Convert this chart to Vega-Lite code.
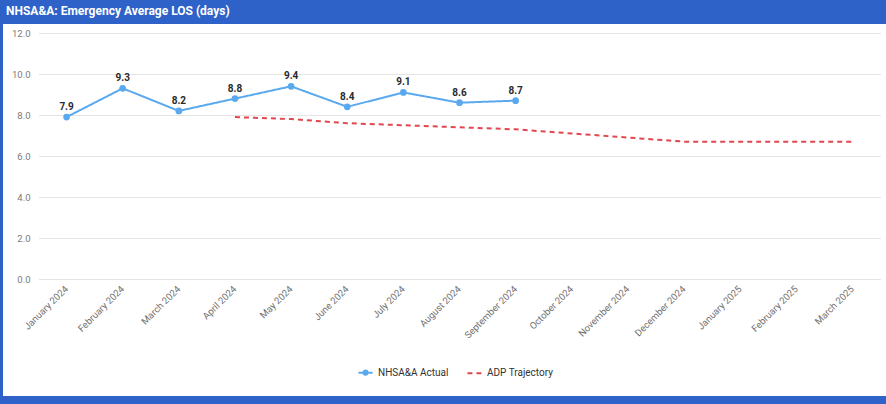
{
  "$schema": "https://vega.github.io/schema/vega-lite/v6.json",
  "autosize": {"type": "none"},
  "width": 883,
  "height": 372,
  "padding": {"left": 3, "top": 24, "right": 0, "bottom": 8},
  "background": "#2f62c8",
  "title": {
    "text": "NHSA&A: Emergency Average LOS (days)",
    "anchor": "start",
    "frame": "group",
    "color": "#ffffff",
    "font": "Roboto, sans-serif",
    "fontSize": 12,
    "fontWeight": "bold",
    "offset": 6,
    "dx": 3
  },
  "config": {
    "view": {"fill": "#ffffff", "stroke": null},
    "font": "Roboto, sans-serif"
  },
  "datasets": {
    "los": [
      {"month": "January 2024", "series": "NHSA&A Actual", "days": 7.9},
      {"month": "February 2024", "series": "NHSA&A Actual", "days": 9.3},
      {"month": "March 2024", "series": "NHSA&A Actual", "days": 8.2},
      {"month": "April 2024", "series": "NHSA&A Actual", "days": 8.8},
      {"month": "May 2024", "series": "NHSA&A Actual", "days": 9.4},
      {"month": "June 2024", "series": "NHSA&A Actual", "days": 8.4},
      {"month": "July 2024", "series": "NHSA&A Actual", "days": 9.1},
      {"month": "August 2024", "series": "NHSA&A Actual", "days": 8.6},
      {"month": "September 2024", "series": "NHSA&A Actual", "days": 8.7},
      {"month": "April 2024", "series": "ADP Trajectory", "days": 7.9},
      {"month": "May 2024", "series": "ADP Trajectory", "days": 7.8},
      {"month": "June 2024", "series": "ADP Trajectory", "days": 7.6},
      {"month": "July 2024", "series": "ADP Trajectory", "days": 7.5},
      {"month": "August 2024", "series": "ADP Trajectory", "days": 7.4},
      {"month": "September 2024", "series": "ADP Trajectory", "days": 7.3},
      {"month": "October 2024", "series": "ADP Trajectory", "days": 7.1},
      {"month": "November 2024", "series": "ADP Trajectory", "days": 6.9},
      {"month": "December 2024", "series": "ADP Trajectory", "days": 6.7},
      {"month": "January 2025", "series": "ADP Trajectory", "days": 6.7},
      {"month": "February 2025", "series": "ADP Trajectory", "days": 6.7},
      {"month": "March 2025", "series": "ADP Trajectory", "days": 6.7}
    ]
  },
  "data": {"name": "los"},
  "encoding": {
    "x": {
      "field": "month",
      "type": "ordinal",
      "scale": {
        "type": "band",
        "domain": ["January 2024", "February 2024", "March 2024", "April 2024", "May 2024", "June 2024", "July 2024", "August 2024", "September 2024", "October 2024", "November 2024", "December 2024", "January 2025", "February 2025", "March 2025"],
        "range": [35.5, 877.5],
        "paddingInner": 0,
        "paddingOuter": 0
      },
      "axis": {
        "title": null,
        "offset": -117,
        "domain": false,
        "ticks": false,
        "labelAngle": -45,
        "labelAlign": "right",
        "labelBaseline": "middle",
        "labelPadding": 8,
        "labelFontSize": 9.5,
        "labelColor": "#6f6f6f"
      }
    },
    "y": {
      "field": "days",
      "type": "quantitative",
      "scale": {"domain": [0, 12], "range": [255, 9], "nice": false, "zero": true},
      "axis": {
        "title": null,
        "offset": -31,
        "values": [0, 2, 4, 6, 8, 10, 12],
        "format": ".1f",
        "domain": false,
        "ticks": false,
        "labelPadding": 4,
        "labelFontSize": 9.5,
        "labelColor": "#7a7a7a",
        "gridColor": "#e4e4e4",
        "gridWidth": 1
      }
    }
  },
  "layer": [
    {
      "mark": {"type": "line", "strokeWidth": 2},
      "encoding": {
        "color": {
          "field": "series",
          "type": "nominal",
          "scale": {"domain": ["NHSA&A Actual", "ADP Trajectory"], "range": ["#5aa9ef", "#e2464f"]},
          "legend": {
            "title": null,
            "orient": "none",
            "direction": "horizontal",
            "legendX": 354,
            "legendY": 340,
            "symbolType": "stroke",
            "symbolStrokeWidth": 2,
            "symbolSize": 200,
            "labelFontSize": 10,
            "labelColor": "#333333",
            "columnPadding": 14,
            "encode": {
              "symbols": {
                "update": {
                  "shape": {"signal": "datum.value === 'NHSA&A Actual' ? 'M-1,0H1M-0.3,0A0.3,0.3 0 1,0 0.3,0A0.3,0.3 0 1,0 -0.3,0' : 'stroke'"},
                  "fill": {"signal": "datum.value === 'NHSA&A Actual' ? '#5aa9ef' : 'transparent'"}
                }
              }
            }
          }
        },
        "strokeDash": {
          "field": "series",
          "type": "nominal",
          "scale": {"domain": ["NHSA&A Actual", "ADP Trajectory"], "range": [[1, 0], [5, 4]]},
          "legend": null
        }
      }
    },
    {
      "transform": [{"filter": "datum.series === 'NHSA&A Actual'"}],
      "mark": {"type": "point", "filled": true, "size": 45, "color": "#5aa9ef", "opacity": 1}
    },
    {
      "transform": [{"filter": "datum.series === 'NHSA&A Actual'"}],
      "mark": {"type": "text", "dy": -10, "fontSize": 10, "fontWeight": "bold", "color": "#2a2a2a"},
      "encoding": {"text": {"field": "days", "type": "quantitative", "format": ".1f"}}
    }
  ]
}
